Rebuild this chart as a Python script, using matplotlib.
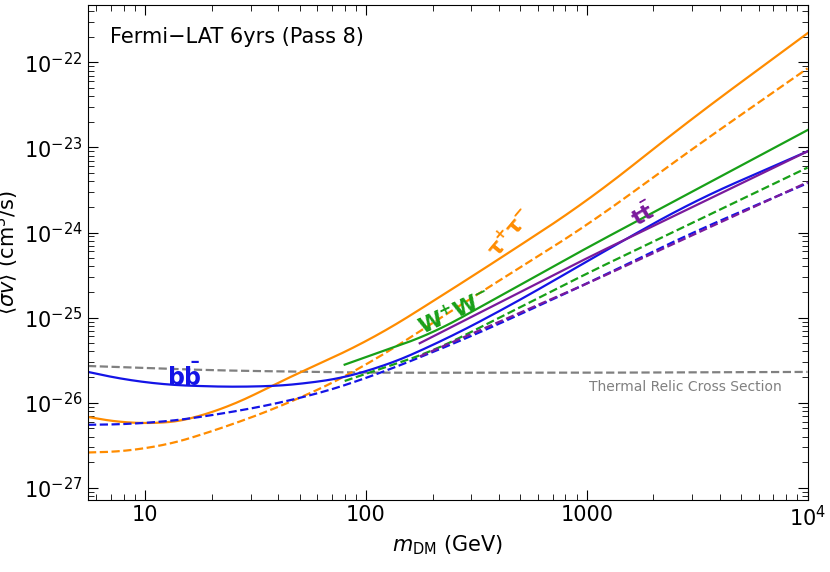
import numpy as np
import matplotlib
matplotlib.use("Agg")
import matplotlib.pyplot as plt
from matplotlib.ticker import LogLocator, NullFormatter, FixedLocator

tau_m = [5.5, 10, 20, 50, 100, 300, 1000, 3000, 10000]
tau_s = [6.8e-27, 5.2e-27, 7e-27, 2.3e-26, 5e-26, 3e-25, 2.3e-24, 2.2e-23, 2.2e-22]
tau_d = [2.6e-27, 2.7e-27, 4.5e-27, 1.1e-26, 2.7e-26, 1.7e-25, 1.2e-24, 9.6e-24, 8.5e-23]
bb_m = [5.5, 10, 30, 60, 100, 200, 500, 1000, 3000, 10000]
bb_s = [2.3e-26, 1.65e-26, 1.5e-26, 1.7e-26, 2.2e-26, 4.6e-26, 1.6e-25, 4.6e-25, 2.3e-24, 9e-24]
bbd_m = [5.5, 10, 20, 50, 100, 300, 1000, 3000, 10000]
bb_d = [5.5e-27, 5.6e-27, 7e-27, 1.1e-26, 1.9e-26, 6e-26, 2.5e-25, 1e-24, 3.8e-24]
ww_m = [80, 200, 1000, 10000]
ww_s = [2.8e-26, 6.5e-26, 6.6e-25, 1.6e-23]
ww_d = [1.8e-26, 4e-26, 3.3e-25, 5.8e-24]
tt_m = [175, 1000, 10000]
tt_s = [5e-26, 5e-25, 9e-24]
tt_d = [3.5e-26, 2.5e-25, 3.9e-24]
th_m = [5.5, 20, 100, 1000, 10000]
th_v = [2.7e-26, 2.4e-26, 2.25e-26, 2.25e-26, 2.3e-26]

def curve(m, v):
    lx = np.log10(m); ly = np.log10(v)
    x = np.linspace(lx[0], lx[-1], 400)
    y = np.interp(x, lx, ly)
    # light smoothing of kinks
    k = 25
    yp = np.concatenate([np.full(k, y[0]) + (y[0] - y[k:0:-1]), y, y[-1] + (y[-1] - y[-2:-k-2:-1])])
    ys = np.convolve(yp, np.ones(2 * k + 1) / (2 * k + 1), mode="same")[k:-k]
    return 10 ** x, 10 ** ys

fig = plt.figure(figsize=(8.3, 5.72), dpi=100)
ax = fig.add_axes([0.106, 0.126, 0.867, 0.865])
ax.set_xscale("log"); ax.set_yscale("log")

O, B, G, P, GR = "#ff8c00", "#1414e6", "#18a018", "#7a1a9c", "#808080"
lw = 1.6
ax.plot(*curve(th_m, th_v), color=GR, ls="--", lw=lw)
ax.plot(*curve(tau_m, tau_s), color=O, lw=lw)
ax.plot(*curve(tau_m, tau_d), color=O, ls="--", lw=lw)
ax.plot(*curve(bb_m, bb_s), color=B, lw=lw)
ax.plot(*curve(bbd_m, bb_d), color=B, ls="--", lw=lw)
ax.plot(*curve(ww_m, ww_s), color=G, lw=lw)
ax.plot(*curve(ww_m, ww_d), color=G, ls="--", lw=lw)
ax.plot(*curve(tt_m, tt_s), color=P, lw=lw)
ax.plot(*curve(tt_m, tt_d), color=P, ls="--", lw=lw)

ax.set_xlim(5.5, 1e4)
ax.set_ylim(7.2e-28, 4.7e-22)
ax.xaxis.set_major_locator(FixedLocator([10, 100, 1000, 1e4]))
ax.set_xticklabels(["10", "100", "1000", r"$10^4$"])
ax.yaxis.set_major_locator(LogLocator(base=10, numticks=20))
ax.yaxis.set_minor_locator(LogLocator(base=10, subs=np.arange(2, 10), numticks=20))
ax.yaxis.set_minor_formatter(NullFormatter())
ax.tick_params(which="both", direction="in", top=True, right=True, labelsize=15, pad=4)
ax.tick_params(which="major", length=7)
ax.tick_params(which="minor", length=4)
ax.set_xlabel(r"$m_{\rm DM}$ (GeV)", fontsize=15, labelpad=2)
ax.set_ylabel(r"$\langle\sigma v\rangle$ (cm$^3$/s)", fontsize=15, labelpad=2)

ax.text(0.03, 0.955, "Fermi−LAT 6yrs (Pass 8)", transform=ax.transAxes, fontsize=15, va="top")
ax.text(7.6e3, 1.55e-26, "Thermal Relic Cross Section", color=GR, fontsize=10, ha="right", va="center")
ax.text(15, 2.0e-26, r"$\mathbf{b\bar{b}}$", color=B, fontsize=17, ha="center", va="center")
ax.text(250, 1.15e-25, r"$\mathbf{W^{+}W^{-}}$", color=G, fontsize=16, ha="center", va="center", rotation=25)
ax.text(450, 1.0e-24, r"$\mathbf{\tau^{+}\tau^{-}}$", color=O, fontsize=16, ha="center", va="center", rotation=50)
ax.text(1800, 1.6e-24, r"$\mathbf{t\bar{t}}$", color=P, fontsize=16, ha="center", va="center", rotation=30)

fig.savefig("out.png", dpi=100)
